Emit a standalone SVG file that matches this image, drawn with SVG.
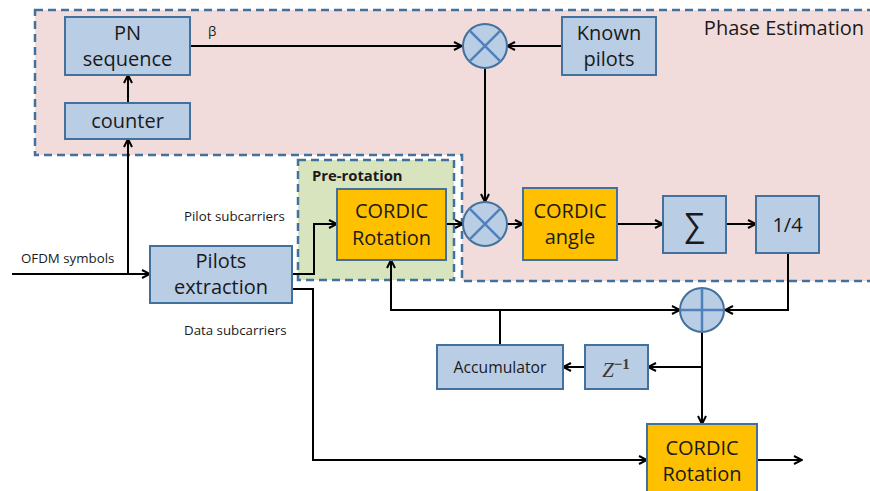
<svg xmlns="http://www.w3.org/2000/svg" width="870" height="491" viewBox="0 0 870 491">
  <style>
    .blk { fill: #b9cde5; stroke: #41719c; stroke-width: 2; }
    .org { fill: #ffc000; stroke: #41719c; stroke-width: 2; }
    .op { fill: #b9cde5; stroke: #41719c; stroke-width: 2; }
    .opx { stroke: #4f81bd; stroke-width: 2.5; fill: none; }
    .zone { stroke: #41719c; stroke-width: 2.5; stroke-dasharray: 8 5; }
    .lbl { font-family: "Open Sans", "Liberation Sans", sans-serif; fill: #1a1a1a; text-anchor: middle; }
    .big { font-size: 20px; }
    .small { font-family: "Open Sans", "Liberation Sans", sans-serif; fill: #1a1a1a; font-size: 13.3px; }
    .wire { fill: none; stroke: #000; stroke-width: 2; }
  </style>
  <defs>
    <marker id="arr" viewBox="0 0 10 10" markerWidth="10" markerHeight="10" refX="9" refY="5" orient="auto" markerUnits="userSpaceOnUse">
      <path d="M1,1 L9,5 L1,9" fill="none" stroke="#000" stroke-width="2"/>
    </marker>
  </defs>

  <!-- background regions -->
  <g id="phase-estimation">
    <path class="zone" d="M35,10 H885 V281 H462 V155 H35 Z" fill="#f2dcdb"/>
    <text class="lbl" x="784" y="35" font-size="20">Phase Estimation</text>
  </g>
  <g id="pre-rotation">
    <rect class="zone" x="298" y="160" width="156" height="120" fill="#d7e4bd"/>
    <text x="312" y="181" font-family="Open Sans, Liberation Sans, sans-serif" font-weight="bold" font-size="14.8" fill="#1a1a1a">Pre-rotation</text>
  </g>

  <!-- connectors -->
  <g id="connectors">
    <path class="wire" d="M128,103 V75" marker-end="url(#arr)"/>
    <path class="wire" d="M12,274 H150" marker-end="url(#arr)"/>
    <path class="wire" d="M128,274 V139" marker-end="url(#arr)"/>
    <path class="wire" d="M190,46 H462" marker-end="url(#arr)"/>
    <path class="wire" d="M562,46 H507" marker-end="url(#arr)"/>
    <path class="wire" d="M485,68 V202" marker-end="url(#arr)"/>
    <path class="wire" d="M446,224 H463" marker-end="url(#arr)"/>
    <path class="wire" d="M507,224 H523" marker-end="url(#arr)"/>
    <path class="wire" d="M617,224 H663" marker-end="url(#arr)"/>
    <path class="wire" d="M726,224 H756" marker-end="url(#arr)"/>
    <path class="wire" d="M788,253 V310 H725" marker-end="url(#arr)"/>
    <path class="wire" d="M292,274 H314 V224 H337" marker-end="url(#arr)"/>
    <path class="wire" d="M292,289 H313 V460 H647" marker-end="url(#arr)"/>
    <path class="wire" d="M500,345 V310"/>
    <path class="wire" d="M500,310 H391 V260" marker-end="url(#arr)"/>
    <path class="wire" d="M500,310 H680" marker-end="url(#arr)"/>
    <path class="wire" d="M702,332 V424" marker-end="url(#arr)"/>
    <path class="wire" d="M702,367 H648" marker-end="url(#arr)"/>
    <path class="wire" d="M585,367 H563" marker-end="url(#arr)"/>
    <path class="wire" d="M757,460 H802" marker-end="url(#arr)"/>
  </g>

  <!-- edge labels -->
  <text class="small" x="208" y="36" font-size="13">β</text>
  <text class="small" x="21" y="263">OFDM symbols</text>
  <text class="small" x="184" y="221">Pilot subcarriers</text>
  <text class="small" x="184" y="335">Data subcarriers</text>

  <g id="pn-sequence">
    <rect class="blk" x="65" y="17" width="125" height="58"/>
    <text class="lbl big" x="127.5" y="40">PN</text>
    <text class="lbl big" x="127.5" y="66">sequence</text>
  </g>
  <g id="counter">
    <rect class="blk" x="65" y="103" width="125" height="36"/>
    <text class="lbl big" x="127.5" y="128">counter</text>
  </g>
  <g id="known-pilots">
    <rect class="blk" x="562" y="17" width="94" height="58"/>
    <text class="lbl big" x="609" y="40">Known</text>
    <text class="lbl big" x="609" y="66">pilots</text>
  </g>
  <g id="mult-1">
    <circle class="op" cx="485" cy="46" r="22"/>
    <path class="opx" d="M469.4,30.4 L500.6,61.6 M500.6,30.4 L469.4,61.6"/>
  </g>
  <g id="mult-2">
    <circle class="op" cx="485" cy="224" r="22"/>
    <path class="opx" d="M469.4,208.4 L500.6,239.6 M500.6,208.4 L469.4,239.6"/>
  </g>
  <g id="pilots-extraction">
    <rect class="blk" x="150" y="246" width="142" height="57"/>
    <text class="lbl big" x="221" y="268">Pilots</text>
    <text class="lbl big" x="221" y="294">extraction</text>
  </g>
  <g id="cordic-rotation-pre">
    <rect class="org" x="337" y="189" width="109" height="71"/>
    <text class="lbl big" x="391.5" y="218">CORDIC</text>
    <text class="lbl big" x="391.5" y="245">Rotation</text>
  </g>
  <g id="cordic-angle">
    <rect class="org" x="523" y="188" width="94" height="72"/>
    <text class="lbl big" x="570" y="218">CORDIC</text>
    <text class="lbl big" x="570" y="244">angle</text>
  </g>
  <g id="sum">
    <rect class="blk" x="663" y="196" width="63" height="57"/>
    <text class="lbl" x="694.5" y="236" font-size="32">∑</text>
  </g>
  <g id="quarter">
    <rect class="blk" x="756" y="196" width="63" height="57"/>
    <text class="lbl" x="787.5" y="232" font-size="20">1/4</text>
  </g>
  <g id="adder">
    <circle class="op" cx="702" cy="310" r="22"/>
    <path class="opx" d="M702,288 V332 M680,310 H724"/>
  </g>
  <g id="accumulator">
    <rect class="blk" x="437" y="345" width="126" height="44"/>
    <text class="lbl" x="500" y="373" font-size="15.7">Accumulator</text>
  </g>
  <g id="delay">
    <rect class="blk" x="585" y="345" width="63" height="44"/>
    <text x="616" y="377" text-anchor="middle" font-family="Liberation Serif, serif" fill="#3d3a36" font-size="21"><tspan font-style="italic">Z</tspan><tspan font-size="15" dy="-8" font-weight="bold">−1</tspan></text>
  </g>
  <g id="cordic-rotation-out">
    <rect class="org" x="647" y="424" width="110" height="75"/>
    <text class="lbl big" x="702" y="455">CORDIC</text>
    <text class="lbl big" x="702" y="481">Rotation</text>
  </g>
</svg>
